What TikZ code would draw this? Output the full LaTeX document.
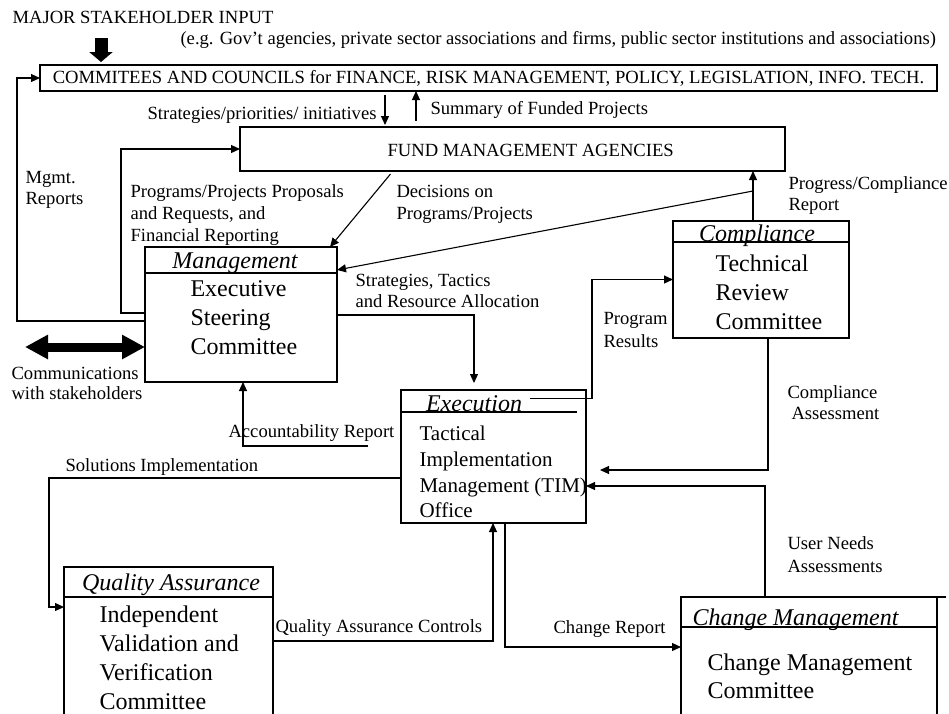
\documentclass[tikz,border=0pt]{standalone}
\usepackage{fontspec}
\setmainfont{Liberation Serif}
\usetikzlibrary{arrows.meta}

\begin{document}
\begin{tikzpicture}[x=1pt, y=-1pt, line width=1.1pt,
  box/.style={draw, anchor=north west, outer sep=0pt, inner sep=0pt},
  lbl/.style={font=\fontsize{18.6}{21}\selectfont, align=left, inner sep=0pt, anchor=west},
  head/.style={font=\fontsize{24}{28}\selectfont\itshape, inner sep=0pt, anchor=base},
  body/.style={font=\fontsize{24}{29}\selectfont, align=left, inner sep=0pt, anchor=west},
  arr/.style={-{Triangle[length=9pt,width=8pt]}},
  bigarrow/.style={line width=13pt, -{Triangle[length=10pt,width=23pt]}},
  bigboth/.style={line width=9pt, {Triangle[length=23pt,width=23pt]}-{Triangle[length=23pt,width=23pt]}}]
\useasboundingbox (0,0) rectangle (949,713);
\clip (0,0) rectangle (949,713);

% top: stakeholders, committees, fund agencies
\node[lbl] (major) at (12,17) {MAJOR STAKEHOLDER INPUT};
\node[lbl] (eg) at (180,40) {(e.g. Gov’t agencies, private sector associations and firms, public sector institutions and associations)};
\node[box, font=\fontsize{18.6}{21}\selectfont, minimum width=897pt, minimum height=26pt] (comm) at (40,65) {COMMITEES AND COUNCILS for FINANCE, RISK MANAGEMENT, POLICY, LEGISLATION, INFO. TECH.};
\node[box, minimum width=545pt, minimum height=44pt] (fund) at (240,127) {};
\node[lbl] (fundtitle) at (387,150) {FUND MANAGEMENT AGENCIES};
\node[lbl, anchor=east] (stratlbl) at (377,115) {Strategies/priorities/ initiatives};
\node[lbl] (summary) at (430,110) {Summary of Funded Projects};

% committee boxes
\node[box, minimum width=192pt, minimum height=135pt] (mgmt) at (145,247) {};
\node[head] (mgmttitle) at (235,268) {Management};
\node[body] (mgmtbody) at (190,318) {Executive\\Steering\\Committee};
\draw ([yshift=-26pt]mgmt.north west) -- ([yshift=-26pt]mgmt.north east);

\node[box, minimum width=176pt, minimum height=117pt] (compl) at (673,221) {};
\node[head] (compltitle) at (757,241) {Compliance};
\node[body] (complbody) at (715,292) {Technical\\Review\\Committee};
\draw ([yshift=-21pt]compl.north west) -- ([yshift=-21pt]compl.north east);

\node[box, minimum width=185pt, minimum height=133pt] (exec) at (401,390) {};
\node[head] (exectitle) at (474,411) {Execution};
\node[body, font=\fontsize{21}{25.7}\selectfont] (execbody) at (419,472) {Tactical\\Implementation\\Management (TIM)\\Office};
\draw ([yshift=-22pt]exec.north west) -- ([yshift=-22pt,xshift=-9pt]exec.north east);

\node[box, minimum width=209pt, minimum height=200pt] (qa) at (64,567) {};
\node[head] (qatitle) at (171,590) {Quality Assurance};
\node[body] (qabody) at (99,658) {Independent\\Validation and\\Verification\\Committee};
\draw ([yshift=-30pt]qa.north west) -- ([yshift=-30pt]qa.north east);

\node[box, minimum width=256pt, minimum height=200pt] (change) at (681,597) {};
\node[head, anchor=base west] (changetitle) at (692,625) {Change Management};
\node[body, font=\fontsize{24}{28}\selectfont] (changebody) at (707,676) {Change Management\\Committee};
\draw ([yshift=-30pt]change.north west) -- ([yshift=-30pt]change.north east);
\draw (change.north east) -- ++(9,0);

% connector labels
\node[lbl] (mgmtrep) at (25,190) {Mgmt.\\Reports};
\node[lbl, font=\fontsize{18.6}{22}\selectfont] (proposals) at (130,215) {Programs/Projects Proposals\\and Requests, and\\Financial Reporting};
\node[lbl, font=\fontsize{18.6}{22}\selectfont] (decisions) at (396,204) {Decisions on\\Programs/Projects};
\node[lbl] (progress) at (788,196) {Progress/Compliance\\Report};
\node[lbl] (tactics) at (355,291) {Strategies, Tactics\\and Resource Allocation};
\node[lbl, font=\fontsize{18.6}{23}\selectfont] (results) at (603,330) {Program\\Results};
\node[lbl, font=\fontsize{18.6}{20}\selectfont] (talklbl) at (11,383) {Communications\\with stakeholders};
\node[lbl] (acclbl) at (228,433) {Accountability Report};
\node[lbl] (asmlbl) at (787,403) {Compliance\\\hspace*{4pt}Assessment};
\node[lbl, font=\fontsize{18.6}{23}\selectfont] (needlbl) at (787,555) {User Needs\\Assessments};
\node[lbl] (chglbl) at (553,629) {Change Report};
\node[lbl] (sollbl) at (65,467) {Solutions Implementation};
\node[lbl] (qaclbl) at (275,628) {Quality Assurance Controls};

% bends of the connectors
\coordinate (majorin) at (101,38);
\coordinate (downx) at (385,0);
\coordinate (upx) at (416,0);
\coordinate (leftrail) at (17,321);
\coordinate (innerrail) at (121,313);
\coordinate (decx) at (393,0);
\coordinate (progjoin) at (753,191);
\coordinate (talk) at (25,347);
\coordinate (tacx) at (474,0);
\coordinate (resx) at (592,0);
\coordinate (asm) at (768,470);
\coordinate (need) at (765,486);
\coordinate (chg) at (505,647);
\coordinate (sol) at (49,478);
\coordinate (solend) at (49,607);
\coordinate (qac) at (493,641);
\coordinate (acc) at (243,446);
\coordinate (accend) at (368,446);

\draw[bigarrow, shorten >=3pt] (majorin) -- (majorin |- comm.north);
\draw[arr, shorten <=4pt, shorten >=2pt] (comm.south -| downx) -- (fund.north -| downx);
\draw[arr, shorten <=6pt] (fund.north -| upx) -- (comm.south -| upx);
\draw[arr] (leftrail -| mgmt.west) -- (leftrail) |- (comm.west);
\draw[arr] (innerrail -| mgmt.west) -- (innerrail) |- (fund.west);
\draw[arr, shorten <=4pt] (fund.south -| decx) -- ([xshift=-7pt]mgmt.north east);
\draw[arr] (compl.north -| progjoin) -- (fund.south -| progjoin);
\draw[arr] (progjoin) -- ([yshift=-23pt]mgmt.north east);
\draw[bigboth] (talk) -- (talk -| mgmt.west);
\draw[arr, shorten >=7pt] ([yshift=-68pt]mgmt.north east) -| (exec.north -| tacx);
\draw[arr] ([xshift=7pt,yshift=5pt]exectitle.east) -| (resx |- compl.west) -- (compl.west);
\draw[arr, shorten >=14pt] (compl.south -| asm) |- (asm -| exec.east);
\draw[arr] (change.north -| need) |- (need -| exec.east);
\draw[arr] (exec.south -| chg) |- (chg -| change.west);
\draw[arr] (sol -| exec.west) -- (sol) -- (solend) -- (solend -| qa.west);
\draw[arr] (qac -| qa.east) -- (qac) -- (exec.south -| qac);
\draw[arr] (accend) -- (acc) -- (acc |- mgmt.south);
\end{tikzpicture}
\end{document}
